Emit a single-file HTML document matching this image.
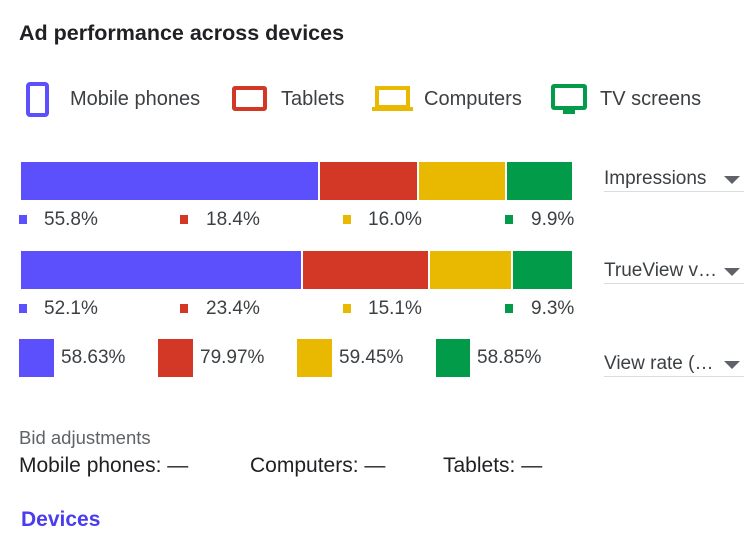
<!DOCTYPE html>
<html><head><meta charset="utf-8"><style>
*{margin:0;padding:0;box-sizing:border-box}
body{width:750px;height:554px;background:#fff;font-family:"Liberation Sans",Arial,sans-serif;color:#3c4043;position:relative;overflow:hidden}
.a{position:absolute;white-space:nowrap}
.b{background:#5c50fc}.r{background:#d33826}.y{background:#e8b900}.g{background:#019b4a}
.lab{font-size:19px;line-height:20px}
.sq{position:absolute;width:8px;height:9px}
.dd{position:absolute;left:604px;width:140px;border-bottom:1px solid #dadce0;font-size:19px;line-height:24px;color:#3c4043}
.dd:after{content:"";position:absolute;right:4px;top:9px;border-left:8px solid transparent;border-right:8px solid transparent;border-top:8px solid #5f6368}
</style></head><body>
<div class="a" style="left:19px;top:21px;font-size:21.5px;font-weight:bold;color:#202124">Ad performance across devices</div>

<div class="a" style="left:26px;top:82px;width:23px;height:35px;border:4px solid #5c50fc;border-radius:4px;background:#fff"></div>
<div class="a" style="left:70px;top:88px;font-size:20px">Mobile phones</div>
<div class="a" style="left:232px;top:86px;width:35px;height:25px;border:4px solid #d33826;border-radius:3px"></div>
<div class="a" style="left:281px;top:88px;font-size:20px">Tablets</div>
<div class="a" style="left:375px;top:86px;width:35px;height:22px;border:4px solid #e8b900;border-bottom-width:3px"></div>
<div class="a y" style="left:372px;top:107px;width:41px;height:4px"></div>
<div class="a" style="left:424px;top:88px;font-size:20px">Computers</div>
<div class="a" style="left:551px;top:84px;width:36px;height:26px;border:4px solid #019b4a;border-radius:3px"></div>
<div class="a g" style="left:563px;top:109px;width:12px;height:5px"></div>
<div class="a" style="left:600px;top:88px;font-size:20px">TV screens</div>

<div class="a b" style="left:21px;top:162px;width:297px;height:38px"></div>
<div class="a r" style="left:320px;top:162px;width:97px;height:38px"></div>
<div class="a y" style="left:419px;top:162px;width:86px;height:38px"></div>
<div class="a g" style="left:507px;top:162px;width:65px;height:38px"></div>
<div class="sq b" style="left:19px;top:215px"></div><div class="a lab" style="left:44px;top:210px">55.8%</div>
<div class="sq r" style="left:180px;top:215px"></div><div class="a lab" style="left:206px;top:210px">18.4%</div>
<div class="sq y" style="left:343px;top:215px"></div><div class="a lab" style="left:368px;top:210px">16.0%</div>
<div class="sq g" style="left:505px;top:215px"></div><div class="a lab" style="left:531px;top:210px">9.9%</div>
<div class="dd" style="top:167px">Impressions</div>

<div class="a b" style="left:21px;top:251px;width:280px;height:38px"></div>
<div class="a r" style="left:303px;top:251px;width:125px;height:38px"></div>
<div class="a y" style="left:430px;top:251px;width:81px;height:38px"></div>
<div class="a g" style="left:513px;top:251px;width:59px;height:38px"></div>
<div class="sq b" style="left:19px;top:304px"></div><div class="a lab" style="left:44px;top:299px">52.1%</div>
<div class="sq r" style="left:180px;top:304px"></div><div class="a lab" style="left:206px;top:299px">23.4%</div>
<div class="sq y" style="left:343px;top:304px"></div><div class="a lab" style="left:368px;top:299px">15.1%</div>
<div class="sq g" style="left:505px;top:304px"></div><div class="a lab" style="left:531px;top:299px">9.3%</div>
<div class="dd" style="top:259px">TrueView v…</div>

<div class="a b" style="left:19px;top:339px;width:35px;height:38px"></div><div class="a lab" style="left:61px;top:348px">58.63%</div>
<div class="a r" style="left:158px;top:339px;width:35px;height:38px"></div><div class="a lab" style="left:200px;top:348px">79.97%</div>
<div class="a y" style="left:297px;top:339px;width:35px;height:38px"></div><div class="a lab" style="left:339px;top:348px">59.45%</div>
<div class="a g" style="left:436px;top:339px;width:34px;height:38px"></div><div class="a lab" style="left:477px;top:348px">58.85%</div>
<div class="dd" style="top:352px">View rate (…</div>

<div class="a" style="left:19px;top:427px;font-size:18.5px;color:#5f6368">Bid adjustments</div>
<div class="a" style="left:19px;top:454px;font-size:21px;color:#202124">Mobile phones: —</div>
<div class="a" style="left:250px;top:454px;font-size:21px;color:#202124">Computers: —</div>
<div class="a" style="left:443px;top:454px;font-size:21px;color:#202124">Tablets: —</div>
<div class="a" style="left:21px;top:508px;font-size:21px;font-weight:bold;color:#4a3cf0">Devices</div>
</body></html>
